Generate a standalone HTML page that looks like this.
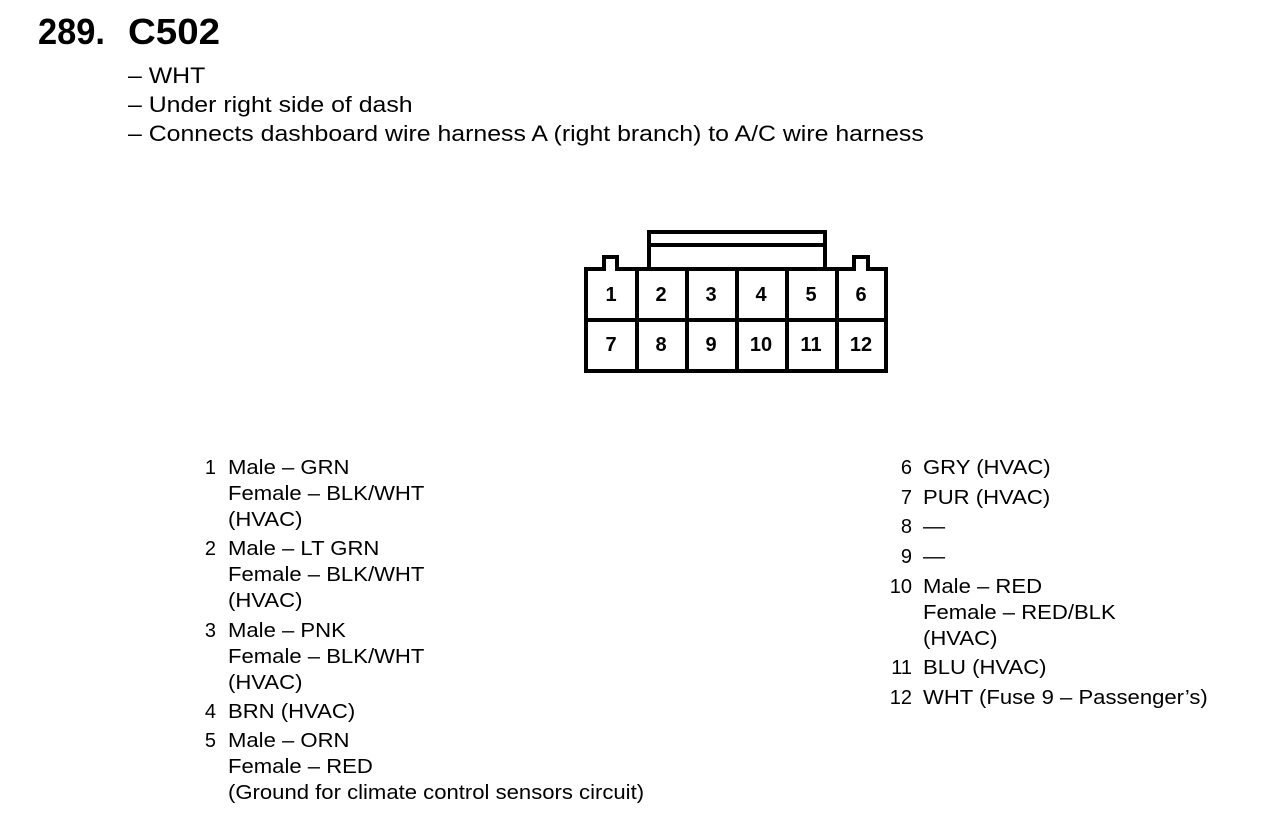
<!DOCTYPE html>
<html><head><meta charset="utf-8"><style>
html,body{margin:0;padding:0;background:#fff;}
svg{display:block;font-family:"Liberation Sans",Arial,sans-serif;}
</style></head><body>
<svg width="1280" height="822" viewBox="0 0 1280 822">
<text x="38" y="44" font-size="36" font-weight="bold" textLength="67" lengthAdjust="spacingAndGlyphs">289.</text>
<text x="128" y="44" font-size="36" font-weight="bold" textLength="92" lengthAdjust="spacingAndGlyphs">C502</text>
<g font-size="22" transform="translate(128 0) scale(1.13 1) translate(-128 0)">
<text x="128" y="83">– WHT</text>
<text x="128" y="112">– Under right side of dash</text>
<text x="128" y="141">– Connects dashboard wire harness A (right branch) to A/C wire harness</text>
</g>
<g fill="none" stroke="#000" stroke-width="4">
<path d="M586 371 V269 H604 V257 H617 V269 H854 V257 H868 V269 H886 V371 Z"/>
<path d="M649 269 V232 H825 V269"/>
<line x1="649" y1="245" x2="825" y2="245"/>
<line x1="586" y1="320" x2="886" y2="320"/>
<line x1="637" y1="269" x2="637" y2="371"/>
<line x1="687" y1="269" x2="687" y2="371"/>
<line x1="737" y1="269" x2="737" y2="371"/>
<line x1="787" y1="269" x2="787" y2="371"/>
<line x1="837" y1="269" x2="837" y2="371"/>
</g>
<g font-size="20" font-weight="bold" text-anchor="middle">
<text x="611" y="301">1</text><text x="661" y="301">2</text><text x="711" y="301">3</text><text x="761" y="301">4</text><text x="811" y="301">5</text><text x="861" y="301">6</text>
<text x="611" y="351">7</text><text x="661" y="351">8</text><text x="711" y="351">9</text><text x="761" y="351">10</text><text x="811" y="351">11</text><text x="861" y="351">12</text>
</g>
<g font-size="20">
<g text-anchor="end">
<text x="216" y="474">1</text><text x="216" y="555">2</text><text x="216" y="637">3</text><text x="216" y="718">4</text><text x="216" y="747">5</text>
<text x="912" y="474">6</text><text x="912" y="504">7</text><text x="912" y="533">8</text><text x="912" y="563">9</text><text x="912" y="593">10</text><text x="912" y="674">11</text><text x="912" y="704">12</text>
</g>
<g transform="translate(228 0) scale(1.105 1) translate(-228 0)">
<text x="228" y="474">Male – GRN</text>
<text x="228" y="500">Female – BLK/WHT</text>
<text x="228" y="526">(HVAC)</text>
<text x="228" y="555">Male – LT GRN</text>
<text x="228" y="581">Female – BLK/WHT</text>
<text x="228" y="607">(HVAC)</text>
<text x="228" y="637">Male – PNK</text>
<text x="228" y="663">Female – BLK/WHT</text>
<text x="228" y="689">(HVAC)</text>
<text x="228" y="718">BRN (HVAC)</text>
<text x="228" y="747">Male – ORN</text>
<text x="228" y="773">Female – RED</text>
<text x="228" y="799">(Ground for climate control sensors circuit)</text>
</g>
<g transform="translate(923 0) scale(1.105 1) translate(-923 0)">
<text x="923" y="474">GRY (HVAC)</text>
<text x="923" y="504">PUR (HVAC)</text>
<text x="923" y="533">—</text>
<text x="923" y="563">—</text>
<text x="923" y="593">Male – RED</text>
<text x="923" y="619">Female – RED/BLK</text>
<text x="923" y="645">(HVAC)</text>
<text x="923" y="674">BLU (HVAC)</text>
<text x="923" y="704">WHT (Fuse 9 – Passenger’s)</text>
</g>
</g>
</svg>
</body></html>
